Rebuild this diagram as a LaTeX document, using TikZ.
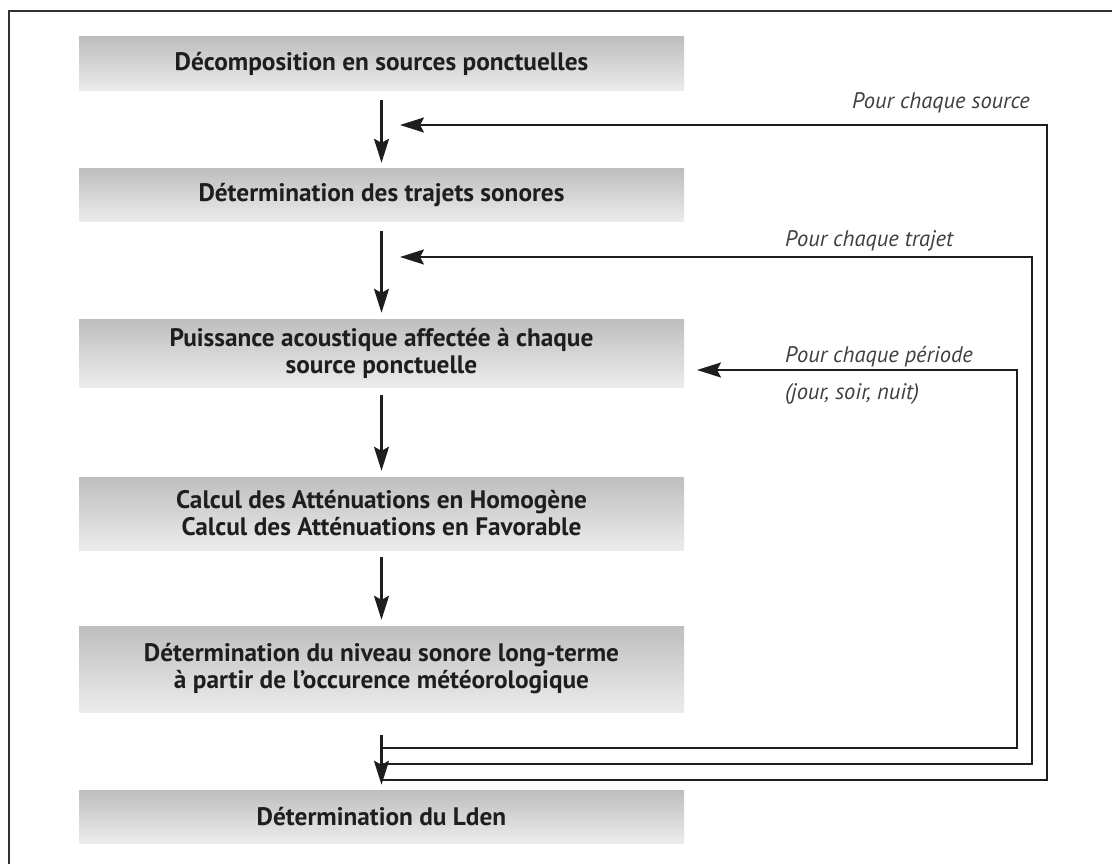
\documentclass[tikz,border=0pt]{standalone}
\usepackage{fontspec}
\setmainfont{PT Sans}
\usetikzlibrary{arrows.meta}
\definecolor{boxtop}{RGB}{190,190,190}
\definecolor{boxbot}{RGB}{236,236,236}
\definecolor{ink}{RGB}{30,30,30}
\definecolor{framec}{RGB}{50,50,50}
\tikzset{
  stepbox/.style={minimum width=605pt, inner sep=0pt, top color=boxtop, bottom color=boxbot,
    draw=none, align=center, font=\fontsize{25.3}{27}\selectfont\bfseries, text=ink},
  tip/.style={-{Stealth[length=24pt,width=15pt,inset=4pt]}},
  ln/.style={line width=2.3pt, draw=ink},
  looplabel/.style={font=\fontsize{22.5}{26}\selectfont\itshape, text=ink!85, inner sep=0pt}
}
\begin{document}
\begin{tikzpicture}[x=1pt,y=-1pt]
\useasboundingbox (0,0) rectangle (1112,864);
\fill[white] (0,0) rectangle (1112,864);
\draw[line width=2.2pt, framec] (9,880) -- (9,11) -- (1125,11);

\node[stepbox, minimum height=54pt] (b1) at (381.5,64) {Décomposition en sources ponctuelles};
\node[stepbox, minimum height=53pt] (b2) at (381.5,195.5) {Détermination des trajets sonores};
\node[stepbox, minimum height=68pt] (b3) at (381.5,353) {Puissance acoustique affectée à chaque\\source ponctuelle};
\node[stepbox, minimum height=73pt] (b4) at (381.5,513.5) {Calcul des Atténuations en Homogène\\Calcul des Atténuations en Favorable};
\node[stepbox, minimum height=86pt] (b5) at (381.5,669) {Détermination du niveau sonore long-terme\\à partir de l'occurence météorologique};
\node[stepbox, minimum height=53pt] (b6) at (381.5,816.5) {Détermination du Lden};

\draw[ln, tip, shorten <=9pt, shorten >=6pt] (b1.south) -- (b2.north);
\draw[ln, tip, shorten <=9pt, shorten >=6pt] (b2.south) -- (b3.north);
\draw[ln, tip, shorten <=8pt, shorten >=6pt] (b3.south) -- (b4.north);
\draw[ln, tip, shorten <=7pt, shorten >=6pt] (b4.south) -- (b5.north);
\draw[ln, tip, shorten <=23pt, shorten >=5pt] (b5.south) -- (b6.north);

% loop end points
\coordinate (t1) at (400,125);
\coordinate (t2) at (400,257);
\coordinate (t3) at (697,370);
\coordinate (j1) at (381.5,780);
\coordinate (j2) at (381.5,764);
\coordinate (j3) at (381.5,748);
\coordinate (c1) at (1047,125);
\coordinate (c2) at (1032,257);
\coordinate (c3) at (1017,370);

\draw[ln, tip] (j1) -| (c1) -- (t1);
\draw[ln, tip] (j2) -| (c2) -- (t2);
\draw[ln, tip] (j3) -| (c3) -- (t3);

\node[looplabel, anchor=base east] (l1) at (1030,109) {Pour chaque source};
\node[looplabel, anchor=base west] (l2) at (785,247) {Pour chaque trajet};
\node[looplabel, anchor=base west] (l3) at (785,362) {Pour chaque période};
\node[looplabel, anchor=base west] (l4) at (785,399) {(jour, soir, nuit)};
\end{tikzpicture}
\end{document}
